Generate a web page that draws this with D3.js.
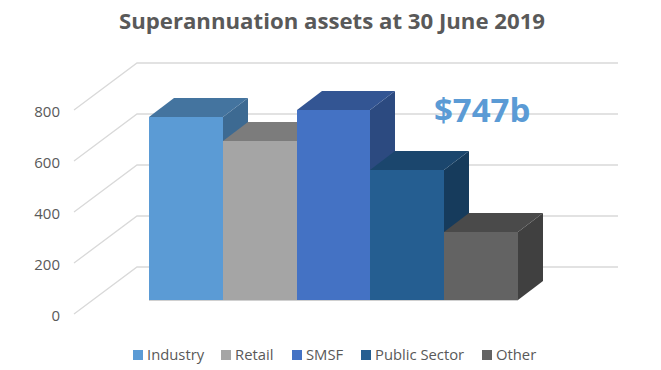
<!DOCTYPE html>
<html>
<head>
<meta charset="utf-8">
<script src="https://cdn.jsdelivr.net/npm/d3@7"></script>
<style>
  html, body { margin: 0; padding: 0; background: #fff; }
  svg { display: block; }
  text { font-family: "Open Sans", "Noto Sans", sans-serif; fill: #595959; }
</style>
</head>
<body>
<svg id="chart" width="661" height="370"></svg>
<script>
// values
var categories = ["Industry", "Retail", "SMSF", "Public Sector", "Other"];
var values = [716, 622, 745, 510, 267];
var yTicks = [0, 200, 400, 600, 800];
var frontColors = ["#5b9bd5", "#a5a5a5", "#4472c4", "#255e91", "#636363"];
var topColors = ["#44749f", "#7c7c7c", "#335593", "#1b466d", "#4a4a4a"];
var sideColors = ["#3d6a92", "#717171", "#2c4a80", "#163b5c", "#404040"];
var legendX = [133, 221, 292, 361, 482];

var width = 661, height = 370;
var svg = d3.select("#chart");

// the side wall starts at x=74, back wall runs to x=618
var wallLeft = 74, wallDx = 63, wallDy = 47, wallRight = 618;
// bars stand a little way back from the front of the floor
var barLift = 14, barDx = 25, barDy = 19;

var x = d3.scaleBand().domain(categories).range([149, 518]);
var y = d3.scaleLinear().domain([0, 800]).range([314, 110]);

// whole pixels so neighbouring bars don't show a seam
function left(d) { return Math.round(x(d)); }
function right(d) { return Math.round(x(d) + x.bandwidth()); }
function barTop(i) { return Math.round(y(values[i]) - barLift); }
var barBase = y(0) - barLift;

// gridlines: up the side wall, then across the back wall
var grid = svg.append("g");
yTicks.forEach(function (t) {
    grid.append("polyline")
        .attr("points", [
            [wallLeft, y(t)],
            [wallLeft + wallDx, y(t) - wallDy],
            [wallRight, y(t) - wallDy]
        ].join(" "))
        .attr("fill", "none")
        .attr("stroke", "#d9d9d9")
        .attr("stroke-width", 1.3);
});

// tick labels
var yAxis = d3.axisLeft(y).tickValues(yTicks).tickSize(0).tickPadding(14);
var axisG = svg.append("g")
    .attr("transform", "translate(" + wallLeft + ",0)")
    .call(yAxis);
axisG.select(".domain").remove();
axisG.selectAll("text")
    .attr("dy", "0.45em")
    .style("font-size", "15px")
    .style("font-family", '"Open Sans", sans-serif')
    .attr("fill", "#595959");

// bars, left to right so each one covers the side of the one before
var bars = svg.selectAll(".bar")
    .data(categories)
    .enter()
    .append("g")
    .attr("class", "bar");

function pts(list) {
    return list.map(function (p) { return p.join(","); }).join(" ");
}

bars.append("polygon")
    .attr("points", function (d, i) {
        var x1 = right(d), top = barTop(i);
        return pts([[x1, top], [x1 + barDx, top - barDy], [x1 + barDx, barBase - barDy], [x1, barBase]]);
    })
    .attr("fill", function (d, i) { return sideColors[i]; });

bars.append("polygon")
    .attr("points", function (d, i) {
        var x0 = left(d), x1 = right(d), top = barTop(i);
        return pts([[x0, top], [x1, top], [x1 + barDx, top - barDy], [x0 + barDx, top - barDy]]);
    })
    .attr("fill", function (d, i) { return topColors[i]; });

bars.append("rect")
    .attr("x", function (d) { return left(d); })
    .attr("y", function (d, i) { return barTop(i); })
    .attr("width", function (d) { return right(d) - left(d); })
    .attr("height", function (d, i) { return barBase - barTop(i); })
    .attr("fill", function (d, i) { return frontColors[i]; });

// thin edge along the foot of the bars
svg.append("line")
    .attr("x1", x.range()[0])
    .attr("x2", x.range()[1])
    .attr("y1", barBase + 0.5)
    .attr("y2", barBase + 0.5)
    .attr("stroke", "#d0d0d0")
    .attr("stroke-width", 1);

// title and callout
svg.append("text")
    .attr("x", 332)
    .attr("y", 29)
    .attr("text-anchor", "middle")
    .style("font-size", "22.2px")
    .style("font-weight", "700")
    .text("Superannuation assets at 30 June 2019");

svg.append("text")
    .attr("x", 434)
    .attr("y", 122)
    .style("font-size", "33px")
    .style("font-weight", "700")
    .style("fill", "#5b9bd5")
    .text("$747b");

// legend
var legend = svg.selectAll(".legend")
    .data(categories)
    .enter()
    .append("g")
    .attr("class", "legend")
    .attr("transform", function (d, i) { return "translate(" + legendX[i] + ",350)"; });

legend.append("rect")
    .attr("width", 10)
    .attr("height", 10)
    .attr("fill", function (d, i) { return frontColors[i]; });

legend.append("text")
    .attr("x", 14)
    .attr("y", 10)
    .style("font-size", "14.8px")
    .text(function (d) { return d; });
</script>
</body>
</html>
